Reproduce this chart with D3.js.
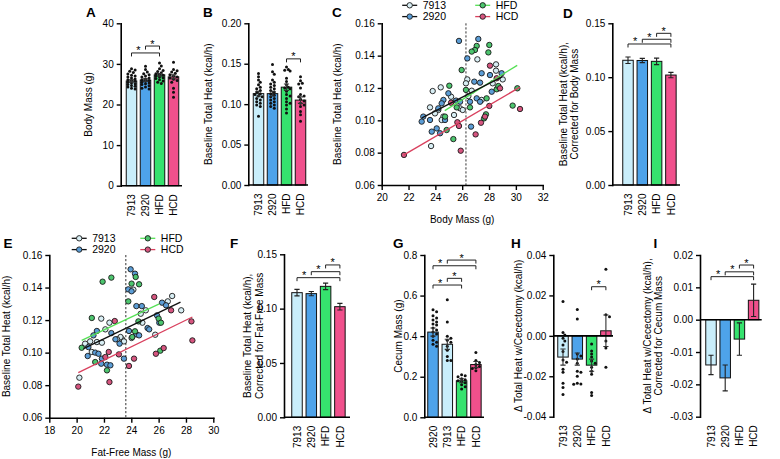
<!DOCTYPE html>
<html><head><meta charset="utf-8">
<script src="https://cdn.jsdelivr.net/npm/d3@7"></script>
<style>
body{margin:0;background:#fff}
svg{display:block;background:#fff}
</style>
</head><body>
<svg id="c" width="780" height="459"></svg>
<script>
// ---------------- DATA ----------------
const groups = ["7913","2920","HFD","HCD"];
const groupsG = ["2920","7913","HFD","HCD"];

// Panel A: body mass (g)
const A_means = [25.8, 26.0, 27.3, 26.8];
const A_sem = [0.3, 0.3, 0.3, 0.5];
const A_7913 = [28.8,28.5,28.2,27.9,27.5,27.2,27.0,26.8,26.5,26.3,26.1,25.9,25.7,25.5,25.3,25.1,24.9,24.7,24.5,24.3,24.0,23.8];
const A_2920 = [29.4,28.6,28.0,27.6,27.3,27.0,26.8,26.5,26.3,26.1,25.9,25.7,25.5,25.3,25.1,24.9,24.6,24.3,24.0,23.8];
const A_HFD = [30.2,29.5,28.8,28.4,28.1,27.8,27.6,27.4,27.2,27.0,26.8,26.6,26.4,26.1,25.8,25.5,25.2];
const A_HCD = [30.4,28.6,28.3,28.0,27.7,27.3,27.0,26.8,26.5,26.2,25.9,25.5,24.0,23.0,21.8];
const A_ticks = [0,10,20,30,40];
const A_sig = [["7913","HFD",32.7],["2920","HFD",34.4]];

// Panel B: baseline total heat (kcal/h)
const B_means = [0.113, 0.113, 0.121, 0.105];
const B_sem = [0.003, 0.003, 0.004, 0.004];
const B_7913 = [0.138,0.134,0.130,0.127,0.124,0.121,0.119,0.117,0.115,0.113,0.112,0.110,0.109,0.107,0.105,0.103,0.101,0.099,0.097,0.085];
const B_2920 = [0.149,0.140,0.137,0.130,0.127,0.125,0.123,0.121,0.119,0.117,0.115,0.113,0.111,0.109,0.107,0.105,0.103,0.101,0.099,0.097,0.095];
const B_HFD = [0.146,0.143,0.142,0.141,0.132,0.128,0.124,0.121,0.120,0.119,0.116,0.112,0.110,0.107,0.103,0.101,0.099,0.094,0.089];
const B_HCD = [0.134,0.129,0.126,0.125,0.120,0.112,0.110,0.109,0.106,0.104,0.101,0.099,0.097,0.091,0.087,0.079];
const B_ticks = [0,0.05,0.10,0.15,0.20];
const B_sig = [["HFD","HCD",0.156]];

// Panel C: heat vs body mass  [mass g, heat kcal/h]
const C_7913 = [[27.13,0.1377],[26.38,0.1253],[26.28,0.1229],[23.80,0.1181],[24.40,0.1204],[28.52,0.1346],[28.52,0.1307],[29.02,0.1253],[23.60,0.1080],[24.22,0.1064],[23.97,0.1043],[24.60,0.1023],[24.47,0.1002],[25.84,0.1074],[26.04,0.1064],[26.46,0.1150],[26.71,0.1183],[23.68,0.0841],[25.39,0.1033],[28.27,0.1229],[27.45,0.1126],[25.17,0.1146]];
const C_2920 = [[25.76,0.1491],[27.20,0.1503],[26.38,0.1383],[27.45,0.1291],[26.90,0.1239],[27.33,0.1233],[28.20,0.1177],[28.94,0.1291],[24.97,0.1167],[24.60,0.1126],[24.47,0.1105],[25.54,0.1122],[25.84,0.1115],[27.08,0.1136],[27.33,0.1115],[23.10,0.1023],[22.98,0.0992],[23.60,0.1002],[23.73,0.0930],[24.10,0.0950],[24.35,0.0920],[24.22,0.1074],[26.66,0.0961],[24.72,0.1002],[26.58,0.1115],[28.07,0.1280]];
const C_HFD = [[27.08,0.1460],[26.95,0.1435],[26.71,0.1425],[28.02,0.1466],[27.95,0.1420],[25.96,0.1311],[25.04,0.1214],[26.28,0.1188],[25.59,0.1080],[26.58,0.1080],[27.82,0.1136],[28.57,0.1192],[28.69,0.1212],[24.72,0.1023],[24.84,0.0940],[25.34,0.0884],[27.63,0.1012],[27.77,0.1037],[29.76,0.1091],[30.11,0.1198]];
const C_HCD = [[21.66,0.0786],[28.07,0.1338],[28.57,0.1260],[25.64,0.0988],[25.76,0.0965],[25.89,0.0812],[27.00,0.0913],[27.40,0.0985],[28.02,0.1089],[27.70,0.1023],[28.82,0.1198],[30.31,0.1070],[25.17,0.1109]];
const C_fitDark = [[23.0,0.1015],[29.0,0.1270]];
const C_fitHFD = [[24.7,0.1060],[30.1,0.1340]];
const C_fitHCD = [[21.66,0.0786],[30.3,0.1205]];
const C_meanMass = 26.28;
const C_xticks = [20,22,24,26,28,30,32];
const C_yticks = [0.06,0.08,0.10,0.12,0.14,0.16];

// Panel D
const D_means = [0.1157, 0.1155, 0.1147, 0.1020];
const D_se = [0.003, 0.002, 0.003, 0.0025];
const D_ticks = [0,0.05,0.10,0.15];
const D_sig = [["7913","HCD",0.1308],["2920","HCD",0.1352],["HFD","HCD",0.1407]];

// Panel E: heat vs fat-free mass
const E_7913 = [[24.15,0.1387],[24.69,0.1239],[25.06,0.1260],[21.80,0.1209],[22.40,0.1184],[26.99,0.1348],[26.67,0.1315],[27.65,0.1260],[20.62,0.1055],[20.99,0.1069],[21.48,0.1065],[21.85,0.1061],[23.33,0.1082],[23.46,0.1069],[23.21,0.1096],[24.02,0.1090],[25.75,0.1110],[20.20,0.0846],[21.11,0.1004],[24.81,0.1184],[22.96,0.1082],[22.10,0.1143]];
const E_2920 = [[23.95,0.1512],[24.27,0.1485],[23.78,0.1389],[24.02,0.1377],[24.37,0.1286],[24.77,0.1286],[26.25,0.1307],[26.54,0.1291],[25.88,0.1229],[26.05,0.1184],[25.19,0.1151],[25.31,0.1143],[24.37,0.1112],[24.57,0.1106],[21.48,0.1133],[21.23,0.1106],[22.54,0.1120],[22.84,0.1082],[23.14,0.1055],[23.83,0.1133],[20.86,0.1034],[21.36,0.1000],[21.60,0.0993],[20.81,0.0979],[21.85,0.0963],[21.80,0.0932],[22.22,0.0926],[22.47,0.0922],[23.46,0.0963]];
const E_HFD = [[22.54,0.1461],[21.90,0.1436],[24.32,0.1465],[24.02,0.1424],[24.57,0.1420],[23.78,0.1315],[21.11,0.1213],[24.52,0.1192],[26.00,0.1209],[26.17,0.1184],[24.07,0.1096],[24.27,0.1131],[20.37,0.1030],[21.36,0.0942],[22.22,0.0891],[26.12,0.1012]];
const E_HCD = [[20.12,0.0791],[22.40,0.0819],[22.79,0.1194],[25.68,0.1342],[26.91,0.1260],[28.40,0.1192],[28.47,0.1075],[22.35,0.1004],[23.09,0.0989],[23.83,0.0918],[24.20,0.0963],[25.80,0.0993],[26.37,0.1028],[22.10,0.0973]];
const E_fitDark = [[20.5,0.1025],[27.6,0.1310]];
const E_fitHFD = [[20.37,0.1075],[26.05,0.1300]];
const E_fitHCD = [[20.12,0.0877],[28.47,0.1219]];
const E_meanMass = 23.6;
const E_xticks = [18,20,22,24,26,28,30];
const E_yticks = [0.06,0.08,0.10,0.12,0.14,0.16];

// Panel F
const F_means = [0.1147, 0.1138, 0.1205, 0.1018];
const F_se = [0.003, 0.002, 0.003, 0.003];
const F_ticks = [0,0.05,0.10,0.15];
const F_sig = [["7913","HCD",0.1285],["2920","HCD",0.1340],["HFD","HCD",0.1402]];

// Panel G: cecum mass (order 2920, 7913, HFD, HCD)
const G_means = [0.42, 0.36, 0.18, 0.26];
const G_sem = [0.02, 0.025, 0.01, 0.015];
const G_2920 = [0.53,0.52,0.50,0.49,0.48,0.47,0.46,0.455,0.44,0.43,0.42,0.41,0.40,0.38,0.37,0.36,0.35];
const G_7913 = [0.58,0.47,0.40,0.39,0.38,0.37,0.35,0.33,0.30,0.28,0.28];
const G_HFD = [0.21,0.205,0.20,0.19,0.185,0.18,0.175,0.17,0.16,0.15,0.14];
const G_HCD = [0.32,0.28,0.27,0.26,0.25,0.245,0.24,0.23];
const G_ticks = [0,0.2,0.4,0.6,0.8];
const G_sig = [["2920","HFD",0.652],["7913","HFD",0.685],["2920","HCD",0.747],["7913","HCD",0.775]];

// Panel H: delta total heat with cecectomy
const H_means = [-0.0105, -0.0115, -0.0145, 0.0025];
const H_sem = [0.004, 0.003, 0.003, 0.0078];
const H_7913 = [0.017,0.0017,0.0004,-0.0012,-0.0025,-0.0045,-0.0078,-0.012,-0.013,-0.0165,-0.018,-0.0235,-0.0255,-0.029];
const H_2920 = [0.013,0.0083,-0.009,-0.010,-0.0115,-0.0135,-0.0175,-0.018,-0.020,-0.0235,-0.024,-0.0238];
const H_HFD = [-0.004,-0.0075,-0.009,-0.0105,-0.0125,-0.0135,-0.0155,-0.0175,-0.019,-0.028,-0.0295];
const H_HCD = [0.033,0.0105,0.0095,-0.0025,-0.006,-0.0155];
const H_ticks = [-0.04,-0.02,0,0.02,0.04];
const H_sig = [["HFD","HCD",0.0243]];

// Panel I
const I_means = [-0.014, -0.018, -0.006, 0.006];
const I_se = [0.003, 0.004, 0.005, 0.005];
const I_ticks = [-0.03,-0.02,-0.01,0,0.01,0.02];
const I_sig = [["7913","HCD",0.0133],["2920","HCD",0.0148],["HFD","HCD",0.0169]];

// ---------------- STYLE ----------------
const FONT = "'Liberation Sans', Arial, Helvetica, sans-serif";
const barColors = ["#c9eefb","#4ea3ea","#36e26e","#f0508c"];
const dotColors = ["#d8eef4","#5b9dd6","#4cc56e","#d6557f"];
const lineColors = ["#111","#111","#55e055","#d9405e"];
const barColor = c => barColors[groups.indexOf(c)];

const svg = d3.select("#c");
const fmtMinus = f => v => d3.format(f)(v).replace("\u2212","-");

function styleAxis(a){
  a.attr("font-family", FONT).attr("font-size", 10);
  a.select(".domain").attr("stroke","#000").attr("stroke-width",1.6).attr("stroke-linecap","square");
  a.selectAll(".tick line").attr("stroke","#000").attr("stroke-width",1.4);
  a.selectAll(".tick text").attr("fill","#000");
}

function panelLetter(t, x, y){
  svg.append("text").attr("x",x).attr("y",y).attr("font-family",FONT)
    .attr("font-weight","bold").attr("font-size",13.5).attr("fill","#000").text(t);
}

function yTitle(lines, cx, cy){
  lines.forEach((t,i)=>{
    const bx = cx + 3.5 + (i-(lines.length-1)/2)*11.5;
    svg.append("text").attr("transform",`translate(${bx},${cy}) rotate(-90)`)
      .attr("text-anchor","middle").attr("font-family",FONT).attr("font-size",10).attr("fill","#000").text(t);
  });
}

function swarm(vals, y, cx, r, maxOff){
  const pts = vals.map(v=>({v, py:y(v)})).sort((a,b)=>a.py-b.py);
  const placed = [];
  const step = r*1.2;
  pts.forEach(p=>{
    let best = 0, bestD = -1;
    for(let k=0;k<12;k++){
      const off = (k%2 ? 1 : -1)*Math.ceil(k/2)*step;
      if(Math.abs(off) > maxOff) continue;
      const d = placed.length ? d3.min(placed, q=>Math.hypot(q.x-(cx+off), q.py-p.py)) : 99;
      if(d >= 2*r*0.95){ best = off; bestD = 99; break; }
      if(d > bestD){ bestD = d; best = off; }
    }
    p.x = cx + best; placed.push(p);
  });
  return placed;
}

function drawSig(g, x, y, sig){
  sig.forEach(([a,b,h])=>{
    const yy = y(h), xa = x(a), xb = x(b);
    g.append("path").attr("d",`M${xa},${yy+3.5}V${yy}H${xb}V${yy+3.5}`)
      .attr("fill","none").attr("stroke","#222").attr("stroke-width",1);
    const higher = sig.filter(s=>s[2]>h && s[1]===b && x(s[0])>xa && x(s[0])<xb);
    let sx = (xa+xb)/2;
    if(higher.length){ sx = (xa + d3.min(higher, s=>x(s[0])))/2; }
    g.append("text").attr("x",sx).attr("y",yy+1.5).attr("text-anchor","middle")
      .attr("font-family",FONT).attr("font-size",11).attr("fill","#000").text("*");
  });
}

function barPanel(cfg){
  const g = svg.append("g");
  const y = d3.scaleLinear().domain(cfg.domain).range([cfg.yBot, cfg.yTop]);
  const x = d3.scalePoint().domain(cfg.cats).range([cfg.c0, cfg.c0 + cfg.step*(cfg.cats.length-1)]);
  const y0 = y(0), bw = 10.5;
  g.selectAll("rect").data(cfg.cats).join("rect")
    .attr("x", c=>x(c)-bw/2)
    .attr("y", (c,i)=>Math.min(y(cfg.means[i]), y0))
    .attr("width", bw)
    .attr("height", (c,i)=>Math.abs(y(cfg.means[i])-y0))
    .attr("fill", c=>barColor(c)).attr("stroke","#111").attr("stroke-width",1);
  if(cfg.points){
    cfg.cats.forEach((c,i)=>{
      const pts = swarm(cfg.points[i], y, x(c), 1.5, 4.2);
      g.append("g").selectAll("circle").data(pts).join("circle")
        .attr("cx",p=>p.x).attr("cy",p=>p.py).attr("r",1.5).attr("fill","#111");
    });
  }
  // error bars
  cfg.cats.forEach((c,i)=>{
    const m = cfg.means[i], e = cfg.err[i], cx = x(c);
    const col = cfg.points ? "#333" : "#222";
    g.append("path").attr("d",`M${cx},${y(m-e)}V${y(m+e)}M${cx-2.6},${y(m+e)}H${cx+2.6}M${cx-2.6},${y(m-e)}H${cx+2.6}`)
      .attr("stroke",col).attr("stroke-width",1.1).attr("fill","none");
  });
  // axes
  const ax = d3.axisLeft(y).tickValues(cfg.ticks).tickFormat(cfg.fmt).tickSize(4).tickPadding(3).tickSizeOuter(0);
  styleAxis(g.append("g").attr("transform",`translate(${cfg.x0},0)`).call(ax));
  g.append("line").attr("x1",cfg.x0).attr("x2",cfg.xEnd).attr("y1",y0).attr("y2",y0)
    .attr("stroke","#000").attr("stroke-width",1.6);
  // category labels
  g.selectAll("text.cat").data(cfg.cats).join("text").attr("class","cat")
    .attr("transform", c=>`translate(${x(c)+3.6},${cfg.yBot+8.5}) rotate(-90)`)
    .attr("text-anchor","end").attr("font-family",FONT).attr("font-size",10).attr("fill","#000")
    .text(c=>c);
  if(cfg.sig) drawSig(g, x, y, cfg.sig);
  yTitle(cfg.title, cfg.titleX, (cfg.yTop+cfg.yBot)/2);
  panelLetter(cfg.letter, cfg.lx, cfg.ly);
}

function scatterPanel(cfg){
  const g = svg.append("g");
  const x = d3.scaleLinear().domain([cfg.xticks[0], cfg.xticks[cfg.xticks.length-1]]).range([cfg.x0, cfg.x1]);
  const y = d3.scaleLinear().domain([cfg.yticks[0], cfg.yticks[cfg.yticks.length-1]]).range([cfg.yBot, cfg.yTop]);
  g.append("line").attr("x1",x(cfg.meanX)).attr("x2",x(cfg.meanX)).attr("y1",cfg.yTop).attr("y2",cfg.yBot)
    .attr("stroke","#333").attr("stroke-width",1).attr("stroke-dasharray","2.2,1.8");
  cfg.series.forEach((s,i)=>{
    g.append("g").selectAll("circle").data(s).join("circle")
      .attr("cx",d=>x(d[0])).attr("cy",d=>y(d[1])).attr("r",2.7)
      .attr("fill",dotColors[i]).attr("stroke","#1a1a1a").attr("stroke-width",0.9);
  });
  const line = d3.line().x(d=>x(d[0])).y(d=>y(d[1]));
  g.append("path").attr("d",line(cfg.fitHFD)).attr("stroke",lineColors[2]).attr("stroke-width",1.3).attr("fill","none");
  g.append("path").attr("d",line(cfg.fitHCD)).attr("stroke",lineColors[3]).attr("stroke-width",1.3).attr("fill","none");
  g.append("path").attr("d",line(cfg.fitDark)).attr("stroke",lineColors[0]).attr("stroke-width",1.4).attr("fill","none");
  const axL = d3.axisLeft(y).tickValues(cfg.yticks).tickFormat(fmtMinus(".2f")).tickSize(4).tickPadding(3).tickSizeOuter(0);
  styleAxis(g.append("g").attr("transform",`translate(${cfg.x0},0)`).call(axL));
  const axB = d3.axisBottom(x).tickValues(cfg.xticks).tickFormat(d3.format("d")).tickSize(5).tickPadding(4).tickSizeOuter(0);
  styleAxis(g.append("g").attr("transform",`translate(0,${cfg.yBot})`).call(axB));
  g.append("text").attr("x",(cfg.x0+cfg.x1)/2).attr("y",cfg.yBot+38).attr("text-anchor","middle")
    .attr("font-family",FONT).attr("font-size",10).attr("fill","#000").text(cfg.xTitle);
  yTitle(cfg.yTitle, cfg.titleX, (cfg.yTop+cfg.yBot)/2);
  // legend
  groups.forEach((gname,i)=>{
    const col = i<2 ? 0 : 1, row = i%2;
    const lx = cfg.x0 + cfg.legOff[col], ly = cfg.legY + row*11.3;
    g.append("line").attr("x1",lx).attr("x2",lx+15).attr("y1",ly).attr("y2",ly)
      .attr("stroke",lineColors[i]).attr("stroke-width",1.3);
    g.append("circle").attr("cx",lx+7.5).attr("cy",ly).attr("r",2.7)
      .attr("fill",dotColors[i]).attr("stroke","#1a1a1a").attr("stroke-width",0.9);
    g.append("text").attr("x",lx+20.5).attr("y",ly+3.7).attr("font-family",FONT).attr("font-size",10.5)
      .attr("fill","#000").text(gname);
  });
  panelLetter(cfg.letter, cfg.lx, cfg.ly);
}

// ---------------- PANELS ----------------
barPanel({letter:"A", lx:86, ly:17, cats:groups, domain:[0,40], ticks:A_ticks, fmt:d3.format("d"),
  x0:120.7, yTop:23.3, yBot:185.7, c0:131.5, step:14, xEnd:182,
  means:A_means, err:A_sem, points:[A_7913,A_2920,A_HFD,A_HCD], sig:A_sig,
  title:["Body Mass (g)"], titleX:88});

barPanel({letter:"B", lx:203, ly:17, cats:groups, domain:[0,0.2], ticks:B_ticks, fmt:fmtMinus(".2f"),
  x0:248.3, yTop:23.3, yBot:185, c0:258.5, step:14, xEnd:308,
  means:B_means, err:B_sem, points:[B_7913,B_2920,B_HFD,B_HCD], sig:B_sig,
  title:["Baseline Total Heat (kcal/h)"], titleX:208.5});

scatterPanel({letter:"C", lx:332, ly:17, x0:381.7, x1:542.7, yTop:23.3, yBot:185,
  xticks:C_xticks, yticks:C_yticks, series:[C_7913,C_2920,C_HFD,C_HCD],
  fitDark:C_fitDark, fitHFD:C_fitHFD, fitHCD:C_fitHCD, meanX:C_meanMass,
  xTitle:"Body Mass (g)", yTitle:["Baseline Total Heat (kcal/h)"], titleX:337,
  legOff:[20.5, 93.5], legY:5.3});

barPanel({letter:"D", lx:563, ly:17.5, cats:groups, domain:[0,0.15], ticks:D_ticks, fmt:fmtMinus(".2f"),
  x0:612.3, yTop:23.3, yBot:185, c0:628, step:14.3, xEnd:680,
  means:D_means, err:D_se, sig:D_sig,
  title:["Baseline Total Heat (kcal/h),","Corrected for Body Mass"], titleX:569});

scatterPanel({letter:"E", lx:3.5, ly:247.5, x0:49.3, x1:213.3, yTop:255, yBot:417.7,
  xticks:E_xticks, yticks:E_yticks, series:[E_7913,E_2920,E_HFD,E_HCD],
  fitDark:E_fitDark, fitHFD:E_fitHFD, fitHCD:E_fitHCD, meanX:E_meanMass,
  xTitle:"Fat-Free Mass (g)", yTitle:["Baseline Total Heat (kcal/h)"], titleX:6.5,
  legOff:[22.4, 91], legY:238.3});

barPanel({letter:"F", lx:230, ly:247.5, cats:groups, domain:[0,0.15], ticks:F_ticks, fmt:fmtMinus(".2f"),
  x0:284, yTop:254.3, yBot:417.3, c0:297, step:14.3, xEnd:350,
  means:F_means, err:F_se, sig:F_sig,
  title:["Baseline Total Heat (kcal/h),","Corrected for Fat-Free Mass"], titleX:253.5});

barPanel({letter:"G", lx:393, ly:247.5, cats:groupsG, domain:[0,0.8], ticks:G_ticks, fmt:fmtMinus(".1f"),
  x0:424.3, yTop:255, yBot:417.3, c0:433, step:14.3, xEnd:484,
  means:G_means, err:G_sem, points:[G_2920,G_7913,G_HFD,G_HCD], sig:G_sig,
  title:["Cecum Mass (g)"], titleX:398});

barPanel({letter:"H", lx:511, ly:248, cats:groups, domain:[-0.04,0.04], ticks:H_ticks, fmt:fmtMinus(".2f"),
  x0:553.3, yTop:255, yBot:416.7, c0:563, step:14.3, xEnd:613,
  means:H_means, err:H_sem, points:[H_7913,H_2920,H_HFD,H_HCD], sig:H_sig,
  title:["\u0394 Total Heat w/Cecectomy (kcal/h)"], titleX:518});

barPanel({letter:"I", lx:653.5, ly:247.5, cats:groups, domain:[-0.03,0.02], ticks:I_ticks, fmt:fmtMinus(".2f"),
  x0:700, yTop:255, yBot:416.7, c0:711, step:14.2, xEnd:761.7,
  means:I_means, err:I_se, sig:I_sig,
  title:["\u0394 Total Heat w/Cecectomy (kcal/h),","Corrected for Cecum Mass"], titleX:653});
</script>
</body></html>
